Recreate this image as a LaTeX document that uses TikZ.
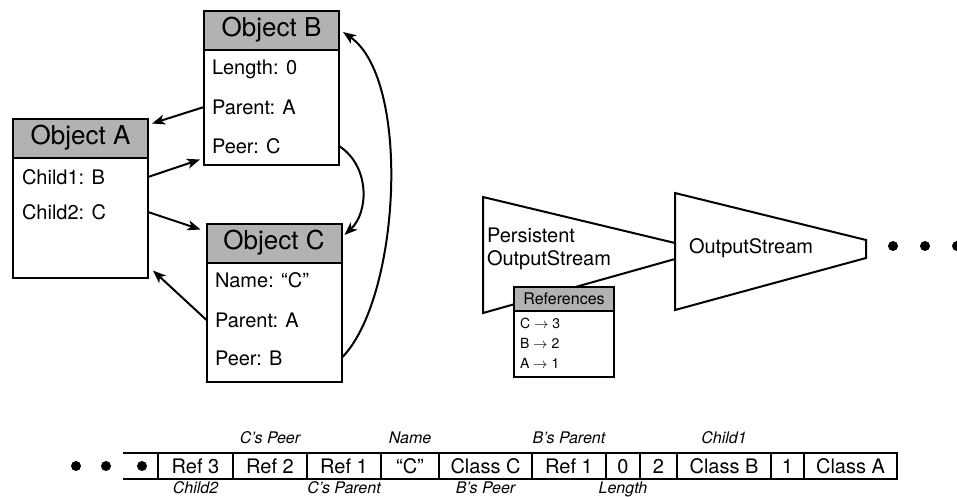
\documentclass[tikz,border=0pt]{standalone}
\usepackage{fontspec}
\setmainfont{TeX Gyre Heros}
\usetikzlibrary{positioning,arrows.meta}

\tikzset{
  objhead/.style={draw, fill=gray!60, minimum width=135pt, minimum height=39pt,
    inner sep=0pt, outer sep=0pt, font=\fontsize{26}{29}\selectfont},
  objbody/.style={draw, fill=white, minimum width=135pt, inner sep=0pt, outer sep=0pt},
  field/.style={anchor=west, inner sep=0pt, text height=14pt, text depth=0pt,
    font=\fontsize{20}{24}\selectfont},
  refhead/.style={draw, fill=gray!60, minimum width=100pt, minimum height=24pt,
    inner sep=0pt, outer sep=0pt, font=\fontsize{16}{18}\selectfont},
  refrow/.style={anchor=west, inner sep=0pt, text height=10pt, text depth=0pt,
    font=\fontsize{14}{16}\selectfont},
  cell/.style={draw, minimum height=26pt, inner sep=0pt, outer sep=0pt,
    text height=14pt, text depth=0pt, font=\fontsize{20}{24}\selectfont},
  tag/.style={inner sep=1pt, font=\fontsize{16}{19}\selectfont\itshape},
  ptr/.style={-{Stealth[length=13pt,width=10pt,inset=3.5pt]}},
  blob/.style={circle, fill, inner sep=0pt, minimum size=10pt},
}

\begin{document}
\begin{tikzpicture}[x=1pt, y=-1pt, line width=2pt]
  \useasboundingbox (0,0) rectangle (957,496);

  % objects
  \node[objhead] (bh) at (271.5,30) {Object B};
  \node[objbody, minimum height=115pt, below=0pt of bh] (bb) {};
  \node[field] (blen) at (211,67) {Length: 0};
  \node[field] (bpar) at (211,107) {Parent: A};
  \node[field] (bpeer) at (211,146) {Peer: C};

  \node[objhead] (ah) at (80.5,138) {Object A};
  \node[objbody, minimum height=120pt, below=0pt of ah] (ab) {};
  \node[field] (ach1) at (21,177) {Child1: B};
  \node[field] (ach2) at (21,212) {Child2: C};

  \node[objhead] (ch) at (274,243) {Object C};
  \node[objbody, minimum height=119pt, below=0pt of ch] (cb) {};
  \node[field] (cname) at (214,280) {Name: “C”};
  \node[field] (cpar) at (214,320) {Parent: A};
  \node[field] (cpeer) at (214,358) {Peer: B};

  \draw[ptr] (bb.west |- bpar) -- ([xshift=4pt,yshift=-5pt]ah.north east);
  \draw[ptr] (ab.east |- ach1) -- ([xshift=-4pt,yshift=5pt]bb.south west);
  \draw[ptr] (ab.east |- ach2) -- ([xshift=-6pt,yshift=-6pt]ch.north west);
  \draw[ptr] (cb.west |- cpar) -- ([xshift=5pt,yshift=7pt]ab.south east);
  \draw[ptr] (bb.east |- bpeer) .. controls (370,166) and (369,212) .. ([xshift=3pt,yshift=8pt]ch.east);
  \draw[ptr] (cb.east |- cpeer) .. controls (400,300) and (412,80) .. ([xshift=4pt,yshift=-2pt]bh.east);

  % streams
  \draw (675,193) -- (866,240) -- (866,258) -- (675,310) -- cycle;
  \draw (675,243) -- (483,197) -- (483,313) -- (675,259);
  \node[anchor=west, inner sep=0pt, align=left, font=\fontsize{20}{23}\selectfont]
    (pos) at (486,249) {Persistent\\OutputStream};
  \node[anchor=west, inner sep=0pt, font=\fontsize{20}{24}\selectfont] (os) at (688,248) {OutputStream};
  \foreach \x in {893,925,957}
    \node[blob] (s\x) at (\x,246) {};

  \node[refhead] (rh) at (564,299) {References};
  \node[objbody, minimum width=100pt, minimum height=66pt, below=0pt of rh] (rb) {};
  \node[refrow] (rc) at (519,323) {C $\rightarrow$ 3};
  \node[refrow] (rbb) at (519,343) {B $\rightarrow$ 2};
  \node[refrow] (ra) at (519,363) {A $\rightarrow$ 1};

  % byte stream
  \node[cell, minimum width=75pt] (r3) at (195.5,466) {Ref 3};
  \node[cell, minimum width=74pt, right=0pt of r3] (r2) {Ref 2};
  \node[cell, minimum width=74pt, right=0pt of r2] (r1) {Ref 1};
  \node[cell, minimum width=58pt, right=0pt of r1] (nm) {“C”};
  \node[cell, minimum width=93pt, right=0pt of nm] (clc) {Class C};
  \node[cell, minimum width=74pt, right=0pt of clc] (rf1) {Ref 1};
  \node[cell, minimum width=34pt, right=0pt of rf1] (zero) {0};
  \node[cell, minimum width=37pt, right=0pt of zero] (two) {2};
  \node[cell, minimum width=94pt, right=0pt of two] (clb) {Class B};
  \node[cell, minimum width=33pt, right=0pt of clb] (one) {1};
  \node[cell, minimum width=93pt, right=0pt of one] (cla) {Class A};
  \draw (r3.north west) -- ++(-35,0);
  \draw (r3.south west) -- ++(-35,0);
  \foreach \x in {76,106,142}
    \node[blob] (d\x) at (\x,466) {};

  \node[tag, above=7pt of r2] (t1) {C’s Peer};
  \node[tag, above=7pt of nm] (t2) {Name};
  \node[tag, above=7pt of rf1] (t3) {B’s Parent};
  \node[tag, above=7pt of clb] (t4) {Child1};
  \node[tag, below=0.5pt of r3] (t5) {Child2};
  \node[tag, below=0.5pt of r1] (t6) {C’s Parent};
  \node[tag, below=0.5pt of clc] (t7) {B’s Peer};
  \node[tag, below=0.5pt of zero] (t8) {Length};
\end{tikzpicture}
\end{document}
